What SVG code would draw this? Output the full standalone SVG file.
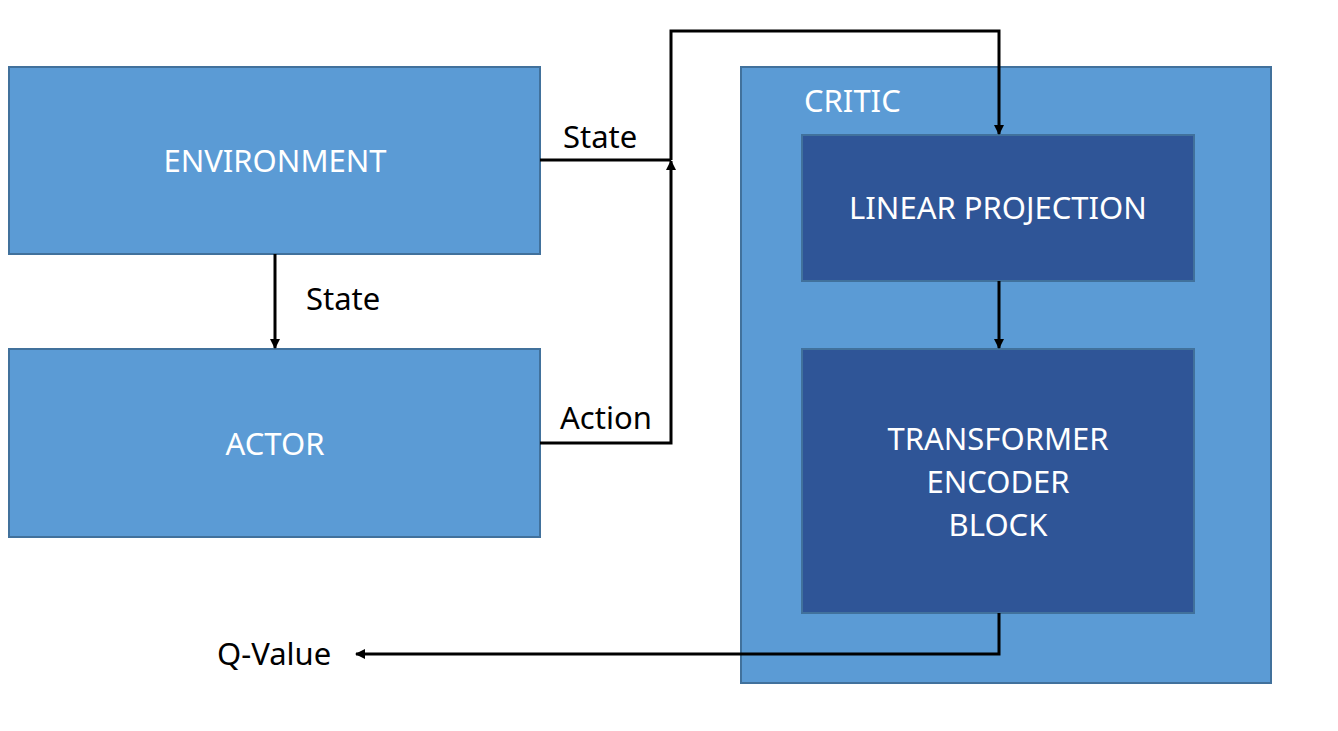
<svg xmlns="http://www.w3.org/2000/svg" width="1338" height="731" viewBox="0 0 1338 731">
<defs>
<marker id="ah" markerWidth="10" markerHeight="10" viewBox="0 0 10 10" refX="9" refY="5" orient="auto" markerUnits="userSpaceOnUse">
<path d="M0,0 L10,5 L0,10 z" fill="#000"/>
</marker>
<style>
.box{fill:#5b9bd5;stroke:#41719c;stroke-width:2}
.inner{fill:#2f5597;stroke:#41719c;stroke-width:2}
.wt{font-family:"Noto Sans","Open Sans",sans-serif;font-size:31px;fill:#fff;text-anchor:middle}
.bt{font-family:"Noto Sans","Open Sans",sans-serif;font-size:31px;fill:#000}
.ln{fill:none;stroke:#000;stroke-width:3}
</style>
</defs>
<rect width="1338" height="731" fill="#fff"/>
<g id="environment">
<rect class="box" x="9" y="67" width="531" height="187"/>
<text class="wt" x="275" y="172">ENVIRONMENT</text>
</g>
<g id="actor">
<rect class="box" x="9" y="349" width="531" height="188"/>
<text class="wt" x="275" y="455">ACTOR</text>
</g>
<g id="critic">
<rect class="box" x="741" y="67" width="530" height="616"/>
<text class="wt" x="804" y="112" style="text-anchor:start">CRITIC</text>
</g>
<g id="linear-projection">
<rect class="inner" x="802" y="135" width="392" height="146"/>
<text class="wt" x="998" y="219">LINEAR PROJECTION</text>
</g>
<g id="transformer">
<rect class="inner" x="802" y="349" width="392" height="264"/>
<text class="wt" x="998" y="450">TRANSFORMER</text>
<text class="wt" x="998" y="493">ENCODER</text>
<text class="wt" x="998" y="536">BLOCK</text>
</g>
<g id="connectors">
<path class="ln" d="M275,254 V348" marker-end="url(#ah)"/>
<path class="ln" d="M540,160 H671"/>
<path class="ln" d="M540,443 H671 V161" marker-end="url(#ah)"/>
<path class="ln" d="M671,160 V31 H999 V134" marker-end="url(#ah)"/>
<path class="ln" d="M999,281 V348" marker-end="url(#ah)"/>
<path class="ln" d="M999,613 V654 H356" marker-end="url(#ah)"/>
</g>
<g id="labels">
<text class="bt" x="563" y="148">State</text>
<text class="bt" x="306" y="310">State</text>
<text class="bt" x="560" y="429">Action</text>
<text class="bt" x="217" y="665">Q-Value</text>
</g>
</svg>
